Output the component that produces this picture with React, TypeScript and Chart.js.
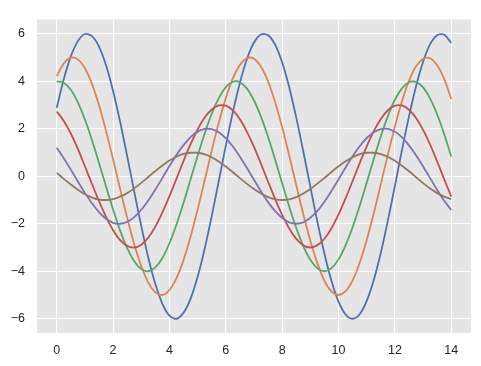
import React, { useEffect, useRef } from "react";
import { Chart, registerables } from "chart.js";

Chart.register(...registerables);

const xValues = [
  0, 0.25, 0.5, 0.75, 1, 1.25, 1.5, 1.75, 2, 2.25, 2.5, 2.75, 3, 3.25, 3.5, 3.75,
  4, 4.25, 4.5, 4.75, 5, 5.25, 5.5, 5.75, 6, 6.25, 6.5, 6.75, 7, 7.25, 7.5, 7.75,
  8, 8.25, 8.5, 8.75, 9, 9.25, 9.5, 9.75, 10, 10.25, 10.5, 10.75, 11, 11.25, 11.5,
  11.75, 12, 12.25, 12.5, 12.75, 13, 13.25, 13.5, 13.75, 14,
];

const series1 = [
  2.88, 4.09, 5.05, 5.69, 5.99, 5.9, 5.46, 4.67, 3.59, 2.29, 0.85, -0.65, -2.1, -3.43,
  -4.54, -5.37, -5.87, -6.0, -5.75, -5.15, -4.23, -3.05, -1.68, -0.2, 1.29, 2.7, 3.94,
  4.94, 5.63, 5.97, 5.94, 5.54, 4.79, 3.75, 2.47, 1.04, -0.45, -1.92, -3.26, -4.41,
  -5.28, -5.82, -6.0, -5.81, -5.25, -4.37, -3.22, -1.87, -0.4, 1.1, 2.52, 3.79, 4.82,
  5.56, 5.94, 5.96, 5.61,
];
const series2 = [
  4.21, 4.75, 4.99, 4.92, 4.55, 3.89, 2.99, 1.91, 0.71, -0.54, -1.75, -2.86, -3.78,
  -4.48, -4.89, -5.0, -4.79, -4.29, -3.53, -2.54, -1.4, -0.17, 1.08, 2.25, 3.29, 4.12,
  4.69, 4.97, 4.95, 4.61, 3.99, 3.12, 2.06, 0.87, -0.38, -1.6, -2.72, -3.67, -4.4,
  -4.85, -5.0, -4.84, -4.38, -3.64, -2.68, -1.56, -0.33, 0.91, 2.1, 3.16, 4.02, 4.63,
  4.95, 4.97, 4.67, 4.09, 3.25,
];
const series3 = [
  3.99, 3.94, 3.64, 3.11, 2.39, 1.53, 0.56, -0.43, -1.4, -2.29, -3.03, -3.58, -3.91,
  -4.0, -3.84, -3.44, -2.82, -2.03, -1.12, -0.13, 0.86, 1.8, 2.63, 3.29, 3.75, 3.98,
  3.96, 3.69, 3.19, 2.5, 1.65, 0.7, -0.3, -1.28, -2.18, -2.94, -3.52, -3.88, -4.0,
  -3.87, -3.5, -2.91, -2.15, -1.24, -0.27, 0.73, 1.68, 2.53, 3.22, 3.7, 3.96, 3.97,
  3.74, 3.27, 2.6, 1.77, 0.83,
];
const series4 = [
  2.73, 2.33, 1.8, 1.15, 0.42, -0.32, -1.05, -1.71, -2.27, -2.69, -2.93, -3.0, -2.88,
  -2.58, -2.12, -1.52, -0.84, -0.1, 0.65, 1.35, 1.97, 2.47, 2.81, 2.98, 2.97, 2.77,
  2.4, 1.87, 1.24, 0.52, -0.23, -0.96, -1.63, -2.2, -2.64, -2.91, -3.0, -2.9, -2.63,
  -2.19, -1.61, -0.93, -0.2, 0.55, 1.26, 1.9, 2.41, 2.78, 2.97, 2.98, 2.8, 2.45, 1.95,
  1.33, 0.62, -0.13, -0.86,
];
const series5 = [
  1.2, 0.76, 0.28, -0.22, -0.7, -1.14, -1.51, -1.79, -1.96, -2.0, -1.92, -1.72, -1.41,
  -1.02, -0.56, -0.07, 0.43, 0.9, 1.31, 1.65, 1.88, 1.99, 1.98, 1.85, 1.6, 1.25, 0.82,
  0.35, -0.15, -0.64, -1.09, -1.47, -1.76, -1.94, -2.0, -1.94, -1.75, -1.46, -1.07,
  -0.62, -0.13, 0.37, 0.84, 1.26, 1.61, 1.85, 1.98, 1.99, 1.87, 1.64, 1.3, 0.88, 0.41,
  -0.08, -0.58, -1.03, -1.42,
];
const series6 = [
  0.14, -0.11, -0.35, -0.57, -0.76, -0.9, -0.98, -1.0, -0.96, -0.86, -0.71, -0.51,
  -0.28, -0.03, 0.22, 0.45, 0.66, 0.82, 0.94, 0.99, 0.99, 0.92, 0.8, 0.62, 0.41, 0.17,
  -0.08, -0.32, -0.54, -0.73, -0.88, -0.97, -1.0, -0.97, -0.88, -0.73, -0.54, -0.31,
  -0.07, 0.18, 0.42, 0.63, 0.8, 0.93, 0.99, 0.99, 0.93, 0.82, 0.65, 0.44, 0.21, -0.04,
  -0.29, -0.52, -0.71, -0.86, -0.96,
];

const xTicks = [0, 2, 4, 6, 8, 10, 12, 14];
const yTicks = [-6, -4, -2, 0, 2, 4, 6];

const allSeries = [series1, series2, series3, series4, series5, series6];
const colors = ["#4C72B0", "#DD8452", "#55A868", "#C44E52", "#8172B3", "#937860"];

const W = 481;
const H = 366;
const AREA = { left: 37, right: 471, top: 8, bottom: 333 };
const FONT = { family: "'Liberation Sans', Arial, sans-serif", size: 12.5 };
const TEXT_COLOR = "#262626";

const bgPlugin = {
  id: "plotBg",
  beforeDraw(chart: any) {
    const { ctx, chartArea } = chart;
    ctx.save();
    ctx.fillStyle = "#E5E5E5";
    ctx.fillRect(chartArea.left, chartArea.top, chartArea.right - chartArea.left, chartArea.bottom - chartArea.top);
    ctx.restore();
  },
};

export default function App() {
  const ref = useRef<HTMLCanvasElement | null>(null);

  useEffect(() => {
    if (!ref.current) return;
    const datasets = allSeries.map((s, i) => ({
      label: `s${i + 1}`,
      data: s.map((y, j) => ({ x: xValues[j], y })),
      borderColor: colors[i],
      backgroundColor: colors[i],
      borderWidth: 1.8,
      pointRadius: 0,
      tension: 0.3,
      fill: false,
      order: allSeries.length - i,
    }));
    const chart = new Chart(ref.current, {
      type: "line",
      data: { datasets },
      options: {
        animation: false,
        responsive: false,
        maintainAspectRatio: false,
        layout: { padding: { left: 0, right: W - AREA.right, top: AREA.top, bottom: 0 } },
        plugins: { legend: { display: false }, tooltip: { enabled: false } },
        scales: {
          x: {
            type: "linear",
            min: -0.7,
            max: 14.7,
            afterFit(scale: any) {
              scale.height = H - AREA.bottom;
            },
            afterBuildTicks(scale: any) {
              scale.ticks = xTicks.map((v) => ({ value: v }));
            },
            grid: { color: "#FFFFFF", lineWidth: 1.1, drawTicks: false },
            border: { display: false },
            ticks: { font: FONT, color: TEXT_COLOR, padding: 10, maxRotation: 0 },
          },
          y: {
            type: "linear",
            min: -6.6,
            max: 6.6,
            afterFit(scale: any) {
              scale.width = AREA.left;
            },
            afterBuildTicks(scale: any) {
              scale.ticks = yTicks.map((v) => ({ value: v }));
            },
            grid: { color: "#FFFFFF", lineWidth: 1.1, drawTicks: false },
            border: { display: false },
            ticks: {
              font: FONT,
              color: TEXT_COLOR,
              padding: 12,
              callback: (v: any) => (Number(v) < 0 ? "\u2212" + Math.abs(Number(v)) : String(v)),
            },
          },
        },
      },
      plugins: [bgPlugin],
    });
    return () => chart.destroy();
  }, []);

  return (
    <div style={{ position: "fixed", left: 0, top: 0, width: W, height: H, background: "#FFFFFF" }}>
      <canvas ref={ref} width={W} height={H} style={{ width: W, height: H, display: "block" }} />
    </div>
  );
}
